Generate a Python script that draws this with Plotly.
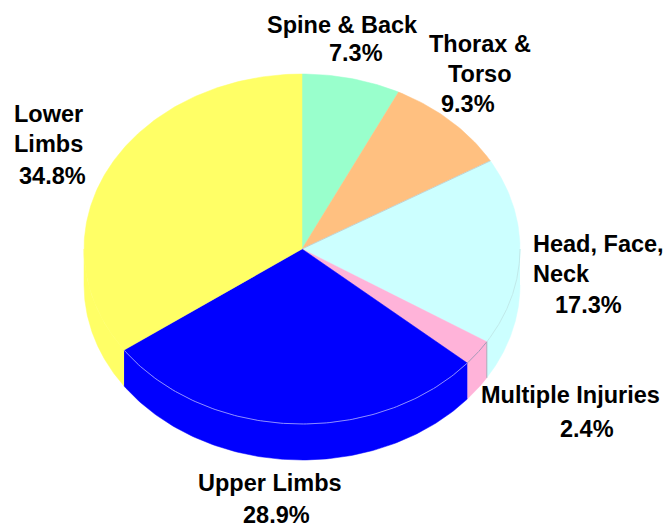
import numpy as np
import plotly.graph_objects as go

# ---- data (clockwise from 12 o'clock) ----
categories = ["Spine & Back", "Thorax & Torso", "Head, Face, Neck",
              "Multiple Injuries", "Upper Limbs", "Lower Limbs"]
values = [7.3, 9.3, 17.3, 2.4, 28.9, 34.8]
label_lines = [["Spine & Back"], ["Thorax &", "Torso"], ["Head, Face,", "Neck"],
               ["Multiple Injuries"], ["Upper Limbs"], ["Lower", "Limbs"]]

# ---- style ----
colors = ["#99FFCC", "#FFC080", "#CCFFFF", "#FFB3D9", "#0000FF", "#FFFF66"]
arc_line_colors = [None, None, "#C0EAEA", "#A898B8", "#8C8CFF", None]
W, H = 667, 527
CX, CY, RX, RY, DEPTH = 302, 249, 218, 175, 36
FONT = dict(family="Liberation Sans, Arial, sans-serif", size=23.5, color="black")
LINE_GAP = 30
# name label anchor (x, y of first line, xanchor), percentage anchor (x, y)
name_anchor = [(342, 25, "center"), (480, 43.5, "center"), (532, 243.5, "left"),
               (570, 395, "center"), (269.5, 482.5, "center"), (48, 113.5, "center")]
pct_anchor = [(356, 52.5), (468, 103.5), (588, 305), (587, 428.5), (276.5, 515), (52.5, 176)]


def pt(theta):
    return CX + RX * np.sin(theta), CY - RY * np.cos(theta)


total = float(sum(values))
cum = np.cumsum([0.0] + values) / total * 2 * np.pi
starts, ends = cum[:-1], cum[1:]

fig = go.Figure()

# side faces (front half only)
for a, b, c in zip(starts, ends, colors):
    lo, hi = max(a, np.pi / 2), min(b, 3 * np.pi / 2)
    if lo >= hi:
        continue
    th = np.linspace(lo, hi, 120)
    x, y = pt(th)
    fig.add_trace(go.Scatter(
        x=np.concatenate([x, x[::-1]]), y=np.concatenate([y, y[::-1] + DEPTH]),
        mode="lines", fill="toself", fillcolor=c, line=dict(color=c, width=0.5),
        hoverinfo="skip", showlegend=False))

# top faces
for a, b, c, name, v in zip(starts, ends, colors, categories, values):
    th = np.linspace(a, b, max(8, int((b - a) / (2 * np.pi) * 400)))
    x, y = pt(th)
    fig.add_trace(go.Scatter(
        x=np.concatenate([[CX], x, [CX]]), y=np.concatenate([[CY], y, [CY]]),
        mode="lines", fill="toself", fillcolor=c, line=dict(color=c, width=0.5),
        name=name, text=f"{name}: {v:.1f}%", hoverinfo="text", showlegend=False))

# thin edge lines on the front slices
for a, b, lc in zip(starts, ends, arc_line_colors):
    if lc is None:
        continue
    lo, hi = max(a, np.pi / 2), min(b, 3 * np.pi / 2)
    th = np.linspace(lo, hi, 120)
    x, y = pt(th)
    fig.add_trace(go.Scatter(x=x, y=y, mode="lines", line=dict(color=lc, width=1),
                             hoverinfo="skip", showlegend=False))

# vertical edge between Head/Multiple and radial edge Thorax/Head
ex, ey = pt(starts[3])
fig.add_trace(go.Scatter(x=[ex, ex], y=[ey, ey + DEPTH], mode="lines",
                         line=dict(color="#B0A8B8", width=1),
                         hoverinfo="skip", showlegend=False))
rx_, ry_ = pt(starts[2])
fig.add_trace(go.Scatter(x=[CX, rx_], y=[CY, ry_], mode="lines",
                         line=dict(color="#B8B8B8", width=0.6),
                         hoverinfo="skip", showlegend=False))

# labels
for lines, v, (nx, ny, xa), (px, py) in zip(label_lines, values, name_anchor, pct_anchor):
    for i, ln in enumerate(lines):
        fig.add_annotation(x=nx, y=ny + i * LINE_GAP, xref="x", yref="y", text=f"<b>{ln}</b>",
                           showarrow=False, xanchor=xa, yanchor="middle", font=FONT,
                           borderpad=0)
    fig.add_annotation(x=px, y=py, xref="x", yref="y", text=f"<b>{v:.1f}%</b>",
                       showarrow=False, xanchor="center", yanchor="middle", font=FONT,
                       borderpad=0)

fig.update_layout(
    width=W, height=H, margin=dict(l=0, r=0, t=0, b=0),
    paper_bgcolor="white", plot_bgcolor="white",
    xaxis=dict(range=[0, W], visible=False, fixedrange=True),
    yaxis=dict(range=[H, 0], visible=False, fixedrange=True),
    showlegend=False,
)

fig.write_html("out.html", config={"displayModeBar": False},
               post_script="document.body.style.margin='0';document.body.style.overflow='hidden';")
